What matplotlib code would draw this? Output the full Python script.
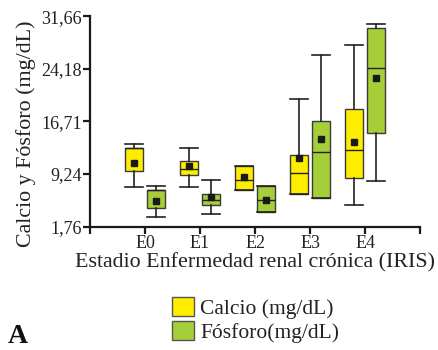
import matplotlib
matplotlib.use('Agg')
import matplotlib.pyplot as plt
from matplotlib.patches import Patch

plt.rcParams['font.family'] = ['Liberation Serif', 'DejaVu Serif']

# stages of chronic kidney disease (IRIS)
stages = ['E0', 'E1', 'E2', 'E3', 'E4']

# calcium (mg/dL)
ca_whislo = [7.37, 7.37, 7.00, 6.43, 4.90]
ca_q1 = [9.61, 9.14, 7.00, 6.43, 8.71]
ca_med = [12.93, 10.00, 8.47, 9.42, 12.60]
ca_q3 = [12.93, 11.03, 10.32, 11.89, 18.41]
ca_whishi = [13.46, 12.93, 10.32, 19.83, 27.58]
ca_mean = [10.75, 10.36, 8.79, 11.50, 13.79]

# phosphorus (mg/dL)
p_whislo = [3.09, 3.51, 3.80, 5.80, 8.22]
p_q1 = [4.37, 4.86, 3.80, 5.80, 15.07]
p_med = [6.99, 5.61, 5.57, 12.36, 24.26]
p_q3 = [6.99, 6.43, 7.61, 16.74, 29.96]
p_whishi = [7.51, 8.42, 7.61, 26.15, 30.58]
p_mean = [5.43, 6.04, 5.60, 14.17, 22.83]

yticks = [1.76, 9.24, 16.71, 24.18, 31.66]
ytick_labels = ['1,76', '9,24', '16,71', '24,18', '31,66']

ca_color = '#ffed00'
p_color = '#a6ce39'


def make_stats(lo, q1, med, q3, hi, mean):
    return [dict(whislo=lo[i], q1=q1[i], med=med[i], q3=q3[i], whishi=hi[i],
                 mean=mean[i], fliers=[]) for i in range(len(lo))]


fig = plt.figure(figsize=(4.39, 3.5), dpi=100)
ax = fig.add_axes([0.205, 0.352, 0.752, 0.602])

pos = list(range(1, len(stages) + 1))
groups = [
    (make_stats(ca_whislo, ca_q1, ca_med, ca_q3, ca_whishi, ca_mean), -0.2, ca_color),
    (make_stats(p_whislo, p_q1, p_med, p_q3, p_whishi, p_mean), 0.2, p_color),
]
for stats, off, col in groups:
    ax.bxp(stats, positions=[p + off for p in pos], widths=0.32, capwidths=0.32,
           patch_artist=True, showmeans=True, showfliers=False,
           boxprops=dict(facecolor=col, edgecolor='#3a3a3a', linewidth=1.0),
           medianprops=dict(color='#222222', linewidth=1.0),
           whiskerprops=dict(color='#222222', linewidth=1.2),
           capprops=dict(color='#222222', linewidth=1.2),
           meanprops=dict(marker='s', markerfacecolor='#1a1a1a',
                          markeredgecolor='#1a1a1a', markersize=5))

ax.set_xlim(0, len(stages) + 1)
ax.set_ylim(yticks[0], yticks[-1])
ax.set_xticks(range(0, len(stages) + 2))
ax.set_xticklabels([''] + stages + [''])
ax.set_yticks(yticks)
ax.set_yticklabels(ytick_labels)

for s in ['top', 'right']:
    ax.spines[s].set_visible(False)
for s in ['left', 'bottom']:
    ax.spines[s].set_linewidth(1.6)
    ax.spines[s].set_color('#1a1a1a')
ax.tick_params(width=1.6, length=5, labelsize=13, colors='#1a1a1a',
               labelcolor='#222222', pad=1)

ax.set_xlabel('Estadio Enfermedad renal crónica (IRIS)', fontsize=15.8,
              color='#222222', labelpad=1)
ax.set_ylabel('Calcio y Fósforo (mg/dL)', fontsize=15.8, color='#222222')
ax.yaxis.set_label_coords(-0.165, 0.44)

handles = [Patch(facecolor=ca_color, edgecolor='#555555', label='Calcio (mg/dL)'),
           Patch(facecolor=p_color, edgecolor='#555555', label='Fósforo(mg/dL)')]
fig.legend(handles=handles, loc='upper left', bbox_to_anchor=(0.392, 0.152),
           frameon=False, fontsize=15.5, handlelength=1.0, handleheight=1.0,
           handletextpad=0.3, labelspacing=0.1, borderpad=0, borderaxespad=0,
           labelcolor='#222222')

fig.text(0.018, 0.02, 'A', fontsize=20, fontweight='bold', color='#111111')

fig.savefig('out.png', dpi=100)
